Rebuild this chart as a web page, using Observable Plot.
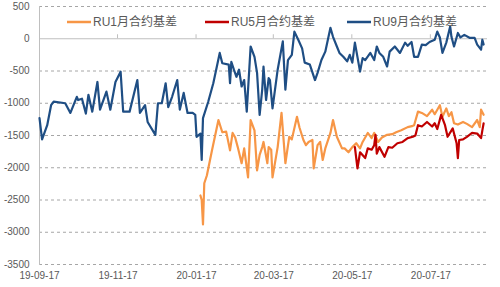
<!DOCTYPE html>
<html>
<head>
<meta charset="utf-8">
<script src="https://cdn.jsdelivr.net/npm/d3@7"></script>
<script src="https://cdn.jsdelivr.net/npm/@observablehq/plot@0.6"></script>
<style>
  html, body { margin: 0; padding: 0; background: #fff; }
  #chart { width: 500px; height: 287px; }
</style>
</head>
<body>
<div id="chart"></div>
<script>
// Series names and colours
const seriesNames = ["RU1月合约基差", "RU5月合约基差", "RU9月合约基差"];
const seriesColors = ["#F79646", "#C00000", "#1F4E84"];

// RU9 basis (date, value)
const ru9 = [
  ["2019-09-17", -1230], ["2019-09-19", -1560], ["2019-09-23", -1340], ["2019-09-26", -1030],
  ["2019-09-28", -975], ["2019-10-07", -1000], ["2019-10-11", -1150], ["2019-10-16", -900],
  ["2019-10-17", -950], ["2019-10-20", -930], ["2019-10-23", -1160], ["2019-10-25", -870],
  ["2019-10-28", -1130], ["2019-11-01", -670], ["2019-11-03", -1100], ["2019-11-08", -820],
  ["2019-11-11", -1100], ["2019-11-15", -670], ["2019-11-19", -510], ["2019-11-21", -1130],
  ["2019-11-26", -1130], ["2019-12-02", -640], ["2019-12-04", -1150], ["2019-12-08", -1030],
  ["2019-12-10", -1290], ["2019-12-16", -1490], ["2019-12-18", -1000], ["2019-12-21", -1000],
  ["2019-12-24", -690], ["2019-12-26", -1060], ["2019-12-29", -900], ["2020-01-02", -640],
  ["2020-01-04", -1100], ["2020-01-07", -840], ["2020-01-10", -1150], ["2020-01-14", -1150],
  ["2020-01-16", -1180], ["2020-01-17", -1520], ["2020-01-20", -1470], ["2020-01-21", -1880],
  ["2020-01-22", -1230], ["2020-01-26", -980], ["2020-01-30", -690], ["2020-02-04", -220],
  ["2020-02-06", -380], ["2020-02-11", -400], ["2020-02-12", -690], ["2020-02-13", -360],
  ["2020-02-15", -480], ["2020-02-17", -590], ["2020-02-19", -480], ["2020-02-21", -740],
  ["2020-02-23", -640], ["2020-02-25", -1130], ["2020-02-28", -120], ["2020-03-02", -280],
  ["2020-03-04", -530], ["2020-03-06", -1180], ["2020-03-08", -790], ["2020-03-09", -430],
  ["2020-03-11", -950], ["2020-03-13", -610], ["2020-03-14", -640], ["2020-03-16", -1080],
  ["2020-03-20", -480], ["2020-03-24", -40], ["2020-03-26", -790], ["2020-03-28", -330],
  ["2020-03-31", -250], ["2020-04-02", 110], ["2020-04-05", -15], ["2020-04-08", -150],
  ["2020-04-10", -370], ["2020-04-14", -400], ["2020-04-18", -640], ["2020-04-20", -530],
  ["2020-04-23", -330], ["2020-04-26", -200], ["2020-04-30", 170], ["2020-05-02", 30],
  ["2020-05-05", -120], ["2020-05-07", -220], ["2020-05-10", -280], ["2020-05-13", -350],
  ["2020-05-15", -250], ["2020-05-17", -370], ["2020-05-19", -60], ["2020-05-23", -510],
  ["2020-05-25", -300], ["2020-05-27", -330], ["2020-05-31", -220], ["2020-06-03", -330],
  ["2020-06-05", -120], ["2020-06-07", -220], ["2020-06-10", -280], ["2020-06-13", -430],
  ["2020-06-15", -200], ["2020-06-19", -120], ["2020-06-23", -220], ["2020-06-27", -60],
  ["2020-06-29", -110], ["2020-07-02", -50], ["2020-07-04", -280], ["2020-07-07", -280],
  ["2020-07-10", -90], ["2020-07-13", -100], ["2020-07-16", -50], ["2020-07-20", -15],
  ["2020-07-22", 110], ["2020-07-24", 20], ["2020-07-26", -220], ["2020-07-29", -60],
  ["2020-08-01", 190], ["2020-08-02", 30], ["2020-08-04", -120], ["2020-08-07", 90],
  ["2020-08-09", 20], ["2020-08-12", 60], ["2020-08-16", 15], ["2020-08-20", 15],
  ["2020-08-22", -90], ["2020-08-25", -170], ["2020-08-26", -15], ["2020-08-27", -90]
];

// RU1 basis (date, value)
const ru1 = [
  ["2020-01-20", -2430], ["2020-01-21", -2500], ["2020-01-22", -2880], ["2020-01-23", -2240],
  ["2020-01-25", -2120], ["2020-01-29", -1730], ["2020-02-03", -1260], ["2020-02-06", -1450],
  ["2020-02-09", -1440], ["2020-02-12", -1730], ["2020-02-14", -1460], ["2020-02-16", -1530],
  ["2020-02-18", -1680], ["2020-02-21", -1930], ["2020-02-23", -1700], ["2020-02-26", -2150],
  ["2020-02-28", -1260], ["2020-03-02", -1420], ["2020-03-04", -2040], ["2020-03-06", -1800],
  ["2020-03-08", -1680], ["2020-03-09", -1600], ["2020-03-12", -1930], ["2020-03-13", -1680],
  ["2020-03-15", -1720], ["2020-03-16", -2150], ["2020-03-20", -1680], ["2020-03-23", -1150],
  ["2020-03-26", -1930], ["2020-03-29", -1520], ["2020-03-31", -1560], ["2020-04-04", -1210],
  ["2020-04-06", -1380], ["2020-04-09", -1570], ["2020-04-11", -1650], ["2020-04-13", -1600],
  ["2020-04-16", -1570], ["2020-04-17", -2010], ["2020-04-20", -1650], ["2020-04-22", -1600],
  ["2020-04-24", -1880], ["2020-04-26", -1700], ["2020-04-30", -1460], ["2020-05-02", -1260],
  ["2020-05-05", -1520], ["2020-05-09", -1700], ["2020-05-11", -1700], ["2020-05-14", -1760],
  ["2020-05-17", -1680], ["2020-05-20", -1620], ["2020-05-23", -1700], ["2020-05-25", -1600],
  ["2020-05-29", -1460], ["2020-06-01", -1540], ["2020-06-03", -1460], ["2020-06-06", -1600],
  ["2020-06-09", -1530], ["2020-06-13", -1490], ["2020-06-17", -1480], ["2020-06-20", -1450],
  ["2020-06-24", -1420], ["2020-06-29", -1370], ["2020-07-03", -1350], ["2020-07-04", -1340],
  ["2020-07-07", -1130], ["2020-07-10", -1150], ["2020-07-14", -1200], ["2020-07-18", -1100],
  ["2020-07-20", -1170], ["2020-07-22", -1100], ["2020-07-24", -1030], ["2020-07-26", -1210],
  ["2020-07-29", -1080], ["2020-07-31", -1200], ["2020-08-02", -1140], ["2020-08-04", -1310],
  ["2020-08-07", -1330], ["2020-08-11", -1290], ["2020-08-14", -1320], ["2020-08-18", -1370],
  ["2020-08-22", -1260], ["2020-08-24", -1370], ["2020-08-25", -1100], ["2020-08-27", -1180]
];

// RU5 basis (date, value)
const ru5 = [
  ["2020-05-19", -1680], ["2020-05-21", -2010], ["2020-05-23", -1760], ["2020-05-27", -1850],
  ["2020-05-29", -1700], ["2020-06-01", -1720], ["2020-06-03", -1650], ["2020-06-04", -1490],
  ["2020-06-05", -1780], ["2020-06-07", -1680], ["2020-06-11", -1830], ["2020-06-14", -1680],
  ["2020-06-17", -1690], ["2020-06-21", -1620], ["2020-06-25", -1600], ["2020-06-29", -1540],
  ["2020-07-03", -1520], ["2020-07-05", -1500], ["2020-07-07", -1340], ["2020-07-10", -1360],
  ["2020-07-14", -1290], ["2020-07-18", -1360], ["2020-07-20", -1310], ["2020-07-22", -1400],
  ["2020-07-25", -1180], ["2020-07-28", -1340], ["2020-07-30", -1520], ["2020-08-03", -1390],
  ["2020-08-06", -1620], ["2020-08-07", -1850], ["2020-08-08", -1570], ["2020-08-11", -1560],
  ["2020-08-14", -1520], ["2020-08-18", -1460], ["2020-08-22", -1470], ["2020-08-25", -1540],
  ["2020-08-26", -1420], ["2020-08-27", -1310]
];

// Axis ticks
const xTickDates = ["2019-09-17", "2019-11-17", "2020-01-17", "2020-03-17", "2020-05-17", "2020-07-17"];
const xTickLabels = ["19-09-17", "19-11-17", "20-01-17", "20-03-17", "20-05-17", "20-07-17"];
const yTicks = [500, 0, -500, -1000, -1500, -2000, -2500, -3000, -3500];
const xDomain = ["2019-09-17", "2020-08-30"];

const parse = d3.utcParse("%Y-%m-%d");
const toRows = (arr, name) => arr.map(([d, v]) => ({date: parse(d), value: v, series: name}));
const rows1 = toRows(ru1, seriesNames[0]);
const rows5 = toRows(ru5, seriesNames[1]);
const rows9 = toRows(ru9, seriesNames[2]);
const xTicks = xTickDates.map(parse);
const labelOf = new Map(xTicks.map((d, i) => [+d, xTickLabels[i]]));

const font = "'Liberation Sans', 'Noto Sans CJK SC', sans-serif";

const chart = Plot.plot({
  width: 500,
  height: 287,
  marginLeft: 39,
  marginRight: 13,
  marginTop: 6,
  marginBottom: 23,
  style: {fontFamily: font, fontSize: "10px", color: "#595959", background: "#fff"},
  x: {type: "utc", domain: xDomain.map(parse)},
  y: {domain: [-3500, 500]},
  marks: [
    Plot.ruleY(yTicks.filter(v => v !== 0), {stroke: "#a6a6a6", strokeDasharray: "3,3", strokeWidth: 1}),
    Plot.ruleY([0], {stroke: "#bfbfbf", strokeWidth: 1}),
    Plot.frame({anchor: "left", stroke: "#bfbfbf"}),
    Plot.axisY({ticks: yTicks, tickSize: 0, tickPadding: 10, label: null, fill: "#595959",
                tickFormat: d => String(d)}),
    Plot.axisX({ticks: xTicks, tickSize: 0, tickPadding: 7, label: null, fill: "#595959",
                tickFormat: d => labelOf.get(+d)}),
    Plot.line(rows1, {x: "date", y: "value", stroke: seriesColors[0], strokeWidth: 2.2}),
    Plot.line(rows5, {x: "date", y: "value", stroke: seriesColors[1], strokeWidth: 2.2}),
    Plot.line(rows9, {x: "date", y: "value", stroke: seriesColors[2], strokeWidth: 2.2})
  ]
});

// small tick marks on the zero line, placed with the chart's own scales
const xs = chart.scale("x"), ys = chart.scale("y");
const svg = d3.select(chart);
const y0 = ys.apply(0);
svg.append("g").selectAll("line").data(xTicks.slice(1)).join("line")
  .attr("x1", d => xs.apply(d)).attr("x2", d => xs.apply(d))
  .attr("y1", y0 - 4).attr("y2", y0)
  .attr("stroke", "#bfbfbf");

// legend inside the plot area
const legendX = [67, 205, 347];
const lg = svg.append("g").attr("font-family", font).attr("font-size", "12px")
  .attr("fill", "#595959").attr("text-anchor", "start");
seriesNames.forEach((name, i) => {
  lg.append("line").attr("x1", legendX[i]).attr("x2", legendX[i] + 24)
    .attr("y1", 22).attr("y2", 22).attr("stroke", seriesColors[i]).attr("stroke-width", 2.5);
  lg.append("text").attr("x", legendX[i] + 26).attr("y", 22).attr("dy", "0.35em").text(name);
});

document.getElementById("chart").appendChild(chart);
</script>
</body>
</html>
